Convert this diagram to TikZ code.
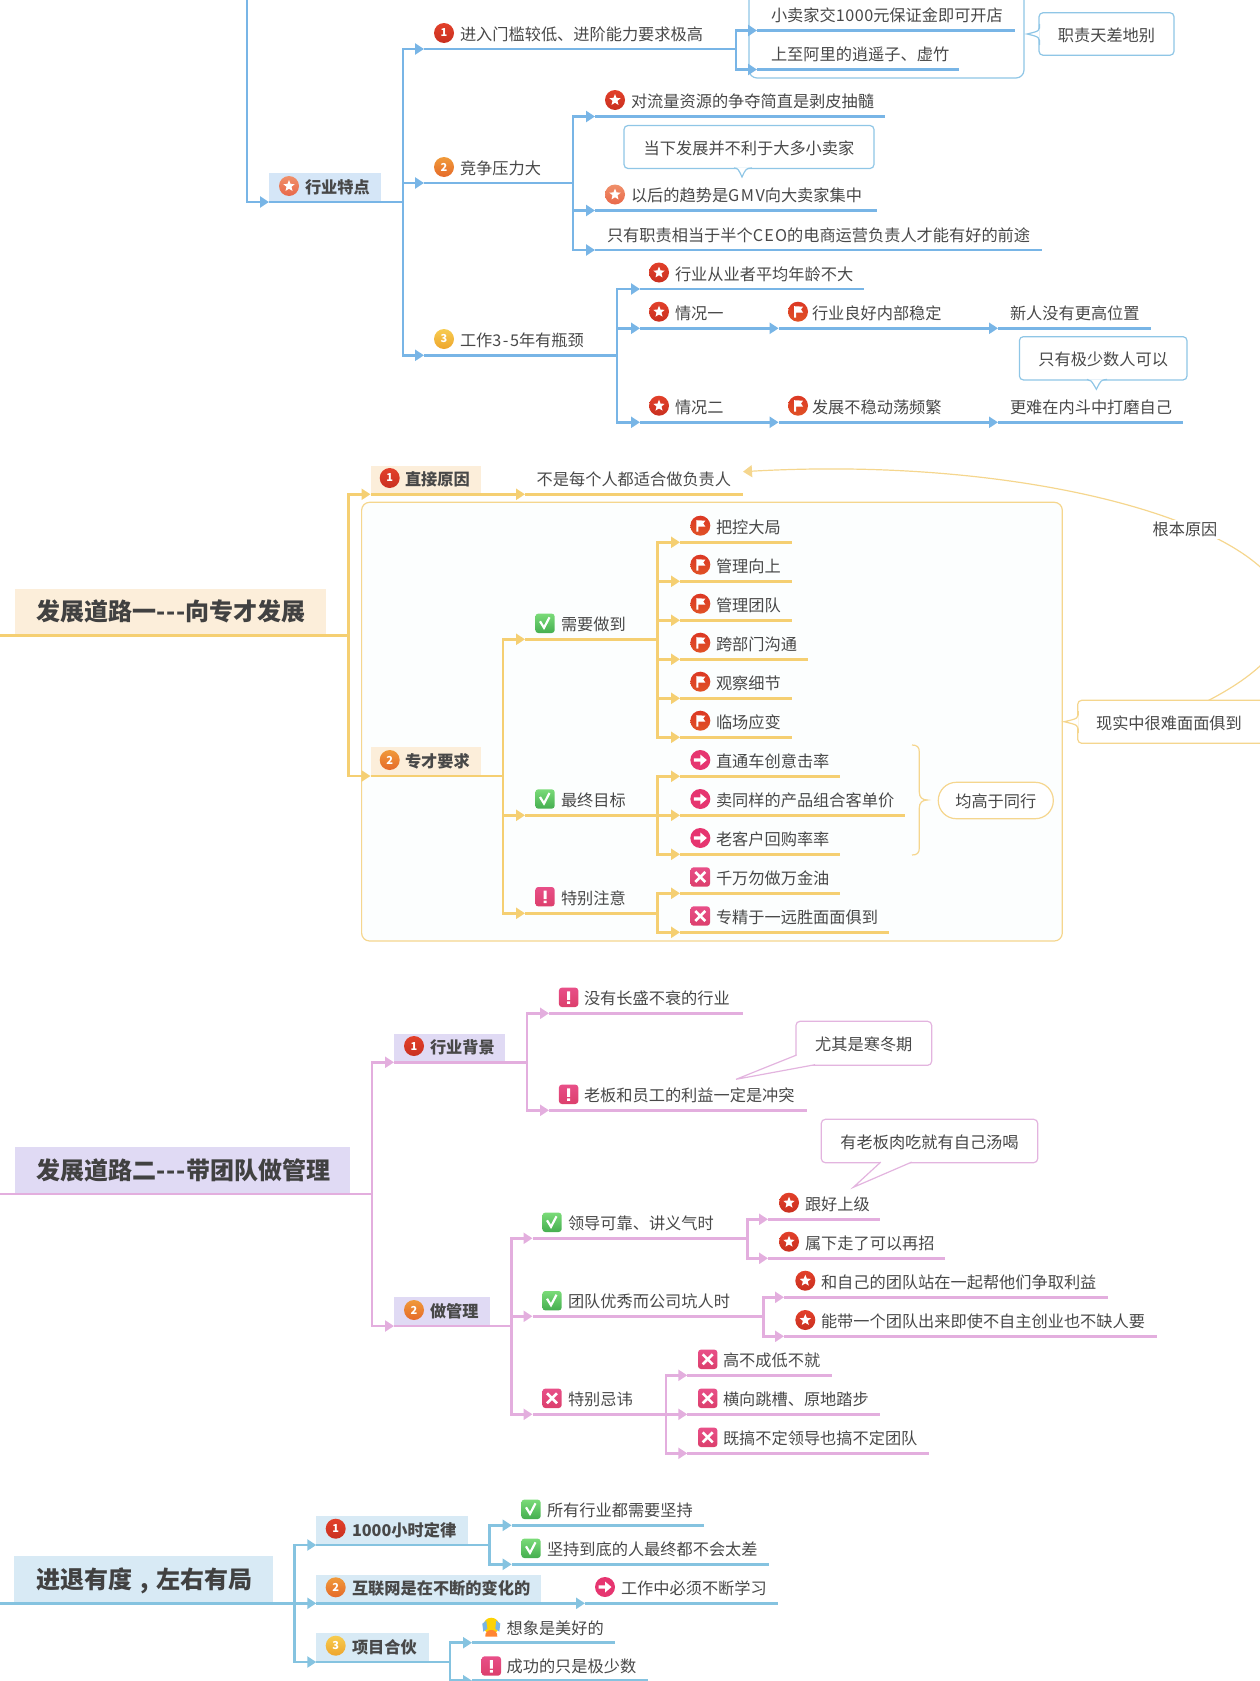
\documentclass[tikz,border=0pt]{standalone}
\usepackage{fontspec}
\setmainfont{Noto Sans CJK SC}
\usetikzlibrary{arrows.meta}
\definecolor{txt}{HTML}{484848}
\definecolor{blueL}{HTML}{78B5E6}
\definecolor{blueB}{HTML}{D5E6F7}
\definecolor{blueC}{HTML}{8FC6E6}
\definecolor{yelL}{HTML}{F5CF72}
\definecolor{yelB}{HTML}{FCEEDA}
\definecolor{yelC}{HTML}{F5D68E}
\definecolor{yelF}{HTML}{FCFEFE}
\definecolor{purL}{HTML}{E3AEDE}
\definecolor{purB}{HTML}{E0DAF4}
\definecolor{purC}{HTML}{E3B4DF}
\definecolor{tealL}{HTML}{85C3E0}
\definecolor{tealB}{HTML}{D8EAF5}
\newcounter{ic}
\tikzset{
  every node/.style={font=\fontsize{16.2}{18}\selectfont,text=txt},
  tp/.style={inner sep=0pt,outer sep=0pt,text height=20pt,text depth=8.7pt},
  boxed/.style={fill=bx,font=\fontsize{16.2}{18}\selectfont\bfseries},
  headbox/.style={fill=bx,font=\fontsize{24}{26}\selectfont\bfseries,text height=32pt,text depth=15pt,text=txt!90!black},
  ul/.style={line width=2.8pt,draw=ln},
  conn/.style={line width=2.8pt,draw=ln,-{Triangle[length=9pt,width=11pt]}},
  note/.style={draw=cl,line width=1.2pt,fill=white,rounded corners=4pt,inner sep=0pt,outer sep=0pt,text height=14.4pt,text depth=0pt},
  ptr/.style={draw=cl,line width=1.2pt,fill=white},
  digit/.style={font=\fontsize{11}{11}\selectfont\bfseries,text=white,inner sep=0pt}
}
\newcommand\topic[7][]{%
  \pgfmathsetmacro\tw{#4-#3}\pgfmathsetmacro\tg{#6-#3}%
  \node[tp,#1,anchor=south west] (#2) at (#3,#5) {\makebox[\tw pt][l]{\hspace*{\tg pt}#7}};
  \draw[ul] (#2.south west) -- (#2.south east);}
\newcommand\conn[3]{\draw[conn] (#1.south east) -| ([xshift=-#3pt]#2.south west) -- (#2.south west);}
% icons
\newcommand\numic[5]{\stepcounter{ic}\begin{scope}[shift={(#1,#2)}]
  \shade[top color=#3,bottom color=#4] (0,0) circle (10);
  \node[digit] (ic\arabic{ic}) at (0,0) {#5};\end{scope}}
\newcommand\istar[4]{\begin{scope}[shift={(#1,#2)}]
  \shade[top color=#3,bottom color=#4] (0,0) circle (10);
  \fill[white,yscale=-1] (90:6) -- (126:2.6) -- (162:6) -- (198:2.6) -- (234:6) -- (270:2.8) -- (306:6) -- (342:2.6) -- (18:6) -- (54:2.6) -- cycle;\end{scope}}
\newcommand\iflag[2]{\begin{scope}[shift={(#1,#2)}]
  \shade[top color=flagA,bottom color=flagB] (0,0) circle (10);
  \fill[white] (-4,-5.5) -- (5,-5) -- (3,-2.2) -- (5,0.8) -- (-2,0.8) -- (-2,6) -- (-4,6) -- cycle;\end{scope}}
\newcommand\iarrow[2]{\begin{scope}[shift={(#1,#2)}]
  \fill[fill=arrowc] (0,0) circle (10);
  \fill[white] (-6.5,-1.7) -- (0,-1.7) -- (0,-5.5) -- (6.5,0) -- (0,5.5) -- (0,1.7) -- (-6.5,1.7) -- cycle;\end{scope}}
\definecolor{arrowc}{HTML}{E63570}
\definecolor{flagA}{HTML}{DC3824}
\definecolor{flagB}{HTML}{E05226}
\definecolor{redA}{HTML}{E2402A}
\definecolor{redB}{HTML}{C93020}
\definecolor{orA}{HTML}{F0906A}
\definecolor{orB}{HTML}{E8684A}
\definecolor{twoA}{HTML}{F09A3A}
\definecolor{twoB}{HTML}{E56A2A}
\definecolor{thrA}{HTML}{F7CC50}
\definecolor{thrB}{HTML}{EEA52C}
\definecolor{chkA}{HTML}{7ADB78}
\definecolor{chkB}{HTML}{45AE50}
\newcommand\icheck[2]{\begin{scope}[shift={(#1,#2)}]
  \shade[top color=chkA,bottom color=chkB,rounded corners=3pt] (-9.7,-9.7) rectangle (9.7,9.7);
  \draw[white,line width=2.2pt] (-5,-2) -- (-1,4.5) -- (4.5,-6);\end{scope}}
\newcommand\icross[2]{\begin{scope}[shift={(#1,#2)}]
  \shade[top color=crossA,bottom color=crossB,rounded corners=3pt] (-9.7,-9.7) rectangle (9.7,9.7);
  \draw[white,line width=2.6pt] (-5,-5) -- (5,5) (-5,5) -- (5,-5);\end{scope}}
\newcommand\iexcl[2]{\begin{scope}[shift={(#1,#2)}]
  \shade[top color=crossA,bottom color=crossB,rounded corners=3pt] (-9.7,-9.7) rectangle (9.7,9.7);
  \fill[white] (-1.5,-6) rectangle (1.5,2.5) (-1.5,4) rectangle (1.5,6.5);\end{scope}}
\definecolor{crossA}{HTML}{E84F88}
\definecolor{crossB}{HTML}{DC3F6C}
\newcommand\iface[2]{\begin{scope}[shift={(#1,#2)}]
  \fill[yellow!70!orange] (0,-2) circle (8);
  \fill[orange!80!red!80] (-6,9) .. controls (-7,0) and (7,0) .. (6,9) -- cycle;
  \fill[blueL] (-9,-4) -- (-5,-7) -- (-4,1) -- (-8,4) -- cycle (9,-4) -- (5,-7) -- (4,1) -- (8,4) -- cycle;\end{scope}}
\newcommand\redstar[2]{\istar{#1}{#2}{redA}{redB}}
\newcommand\orstar[2]{\istar{#1}{#2}{orA}{orB}}
\newcommand\nA[2]{\numic{#1}{#2}{redA}{redB}{1}}
\newcommand\nB[2]{\numic{#1}{#2}{twoA}{twoB}{2}}
\newcommand\nC[2]{\numic{#1}{#2}{thrA}{thrB}{3}}
\newcommand\hy{-\kern0.6pt}
\begin{document}
\begin{tikzpicture}[x=1pt,y=-1pt]
\useasboundingbox (0,0) rectangle (1260,1681);
\clip (0,0) rectangle (1260,1681);
%============ BLUE
\begin{scope}
\colorlet{ln}{blueL}\colorlet{bx}{blueB}\colorlet{cl}{blueC}
\node[note,anchor=south west,minimum width=275pt,minimum height=100pt,rounded corners=8pt] (bframe) at (749,78) {};
\coordinate (btop) at (247,-3);
\topic[boxed]{bA}{269}{381}{202}{305}{行业特点}\orstar{289}{186}
\draw[conn] (btop) |- (bA.south west);
\topic{bB}{424}{720}{49}{460}{进入门槛较低、进阶能力要求极高}\nA{444}{33}
\topic{bC}{424}{550}{183}{460}{竞争压力大}\nB{444}{167}
\topic{bD}{424}{600}{355.3}{460}{工作3\kern1.5pt-\kern1.5pt 5年有瓶颈}\nC{444}{339}
\conn{bA}{bB}{21}\conn{bA}{bC}{21}\conn{bA}{bD}{21}
\topic{bB1}{757}{1015}{30.5}{771}{小卖家交1\kern.5pt 0\kern.5pt 0\kern.5pt 0元保证金即可开店}
\topic{bB2}{757}{959}{69.5}{771}{上至阿里的逍遥子、虚竹}
\conn{bB}{bB1}{21}\conn{bB}{bB2}{21}
\topic{bC1}{595}{885}{116.5}{631}{对流量资源的争夺简直是剥皮抽髓}\redstar{615}{100}
\topic{bC2}{595}{877}{210.5}{631}{以后的趋势是G\kern1.5pt M\kern1.5pt V向大卖家集中}\orstar{615}{194.5}
\topic{bC3}{595}{1042}{250}{607}{只有职责相当于半个C\kern1.2pt E\kern1.2pt O的电商运营负责人才能有好的前途}
\conn{bC}{bC1}{22}\conn{bC}{bC2}{22}\conn{bC}{bC3}{22}
\topic{bD1}{640}{864}{289}{675}{行业从业者平均年龄不大}\redstar{659}{272.5}
\topic{bD2}{640}{765}{328.3}{675}{情况一}\redstar{659}{311.7}
\topic{bD3}{640}{765}{422.3}{675}{情况二}\redstar{659}{405.7}
\conn{bD}{bD1}{23}\conn{bD}{bD2}{23}\conn{bD}{bD3}{23}
\topic{bE1}{778.6}{985}{328.3}{812}{行业良好内部稳定}\iflag{798}{311.7}
\topic{bE2}{998}{1151}{328.3}{1010}{新人没有更高位置}
\conn{bD2}{bE1}{5}\conn{bE1}{bE2}{5}
\topic{bF1}{778.6}{985}{422.3}{812}{发展不稳动荡频繁}\iflag{798}{405.7}
\topic{bF2}{998}{1183}{422.3}{1010}{更难在内斗中打磨自己}
\conn{bD3}{bF1}{5}\conn{bF1}{bF2}{5}
% callouts
\node[note,minimum width=135pt,minimum height=42.5pt] (cA) at (1106.5,34) {职责天差地别};
\draw[ptr] (1039.6,24) .. controls (1039.6,31) .. (1027,34) .. controls (1039.6,37) .. (1039.6,45);
\node[note,minimum width=250pt,minimum height=43pt] (cB) at (749,147) {当下发展并不利于大多小卖家};
\draw[ptr] (734,167.9) .. controls (738,168.5) .. (742,177) .. controls (746,168.5) .. (752,167.9);
\node[note,minimum width=167.6pt,minimum height=43.3pt] (cC) at (1103.2,358.3) {只有极少数人可以};
\draw[ptr] (1087,379.4) .. controls (1091,380) .. (1096.4,389.3) .. controls (1101,380) .. (1107,379.4);
\end{scope}
%============ YELLOW
\begin{scope}
\colorlet{ln}{yelL}\colorlet{bx}{yelB}\colorlet{cl}{yelC}
\node[note,anchor=north west,minimum width=700.7pt,minimum height=438.7pt,rounded corners=8pt,fill=yelF] (yframe) at (361.6,502.3) {};
\coordinate (yleft) at (-3,635.5);
\topic[headbox]{yH}{14.7}{326}{635.5}{36.5}{发展道路一\hy\hy\hy 向专才发展}
\draw[ul] (yleft) -- (yH.south west);
\topic[boxed]{yA}{370.5}{481}{494.3}{405}{直接原因}\nA{389.7}{478}
\topic[boxed]{yB}{370.5}{481}{776}{405}{专才要求}\nB{389.7}{760}
\conn{yH}{yA}{22}\conn{yH}{yB}{22}
\topic{yA1}{525}{743}{494.3}{536.7}{不是每个人都适合做负责人}
\conn{yA}{yA1}{5}
\topic{yC}{525}{640}{639.3}{561}{需要做到}\icheck{545}{623.3}
\topic{yD}{525}{640}{815.3}{561}{最终目标}\icheck{545}{799}
\topic{yE}{525}{640}{913.3}{561}{特别注意}\iexcl{545}{896.7}
\conn{yB}{yC}{22}\conn{yB}{yD}{22}\conn{yB}{yE}{22}
\topic{yC1}{680}{792.3}{542.3}{716}{把控大局}\iflag{700.3}{525.7}
\topic{yC2}{680}{792.3}{581.3}{716}{管理向上}\iflag{700.3}{564.7}
\topic{yC3}{680}{792.3}{620.3}{716}{管理团队}\iflag{700.3}{603.7}
\topic{yC4}{680}{808.3}{659.3}{716}{跨部门沟通}\iflag{700.3}{642.7}
\topic{yC5}{680}{792.3}{698.3}{716}{观察细节}\iflag{700.3}{681.7}
\topic{yC6}{680}{792.3}{737.3}{716}{临场应变}\iflag{700.3}{720.7}
\foreach \c in {1,...,6}{\conn{yC}{yC\c}{22.3}}
\topic{yD1}{680}{840}{776.3}{716}{直通车创意击率}\iarrow{700.3}{760}
\topic{yD2}{680}{905}{815.3}{716}{卖同样的产品组合客单价}\iarrow{700.3}{799}
\topic{yD3}{680}{840}{854.3}{716}{老客户回购率率}\iarrow{700.3}{838}
\foreach \c in {1,2,3}{\conn{yD}{yD\c}{22.3}}
\topic{yE1}{680}{840}{893.3}{716}{千万勿做万金油}\icross{700.3}{877}
\topic{yE2}{680}{889}{932.3}{716}{专精于一远胜面面俱到}\icross{700.3}{916}
\conn{yE}{yE1}{22.3}\conn{yE}{yE2}{22.3}
% brace
\draw[draw=cl,line width=1.2pt] (912,745) .. controls (917,745) and (919.3,747) .. (919.3,752) -- (919.3,792) .. controls (919.3,797) and (922,800) .. (927.3,800) .. controls (922,800) and (919.3,803) .. (919.3,808) -- (919.3,848) .. controls (919.3,853) and (917,855) .. (912,855);
\node[note,minimum width=115pt,minimum height=36.4pt,rounded corners=18pt] (yS) at (995.8,800.5) {均高于同行};
\node[note,anchor=west,minimum width=190pt,minimum height=43pt] (yR) at (1077.7,721.8) {\hspace*{-7.5pt}现实中很难面面俱到};
\draw[ptr] (1078.3,711) .. controls (1078.3,718.5) .. (1064,721.7) .. controls (1078.3,725) .. (1078.3,733);
\draw[line width=1.2pt,draw=cl,-{Triangle[length=9pt,width=12pt]}] ([xshift=36pt]yR.north) .. controls (1440,580) and (1120,450) .. ([yshift=22.6pt]yA1.south east);
\node[fill=white,inner sep=2pt] (yW) at (1185,529.5) {根本原因};
\end{scope}
%============ PURPLE
\begin{scope}
\colorlet{ln}{purL}\colorlet{bx}{purB}\colorlet{cl}{purC}
\coordinate (pleft) at (-3,1194);
\topic[headbox]{pH}{14.5}{350}{1194}{36.8}{发展道路二\hy\hy\hy 带团队做管理}
\draw[ul] (pleft) -- (pH.south west);
\topic[boxed]{pA}{394}{505}{1062.3}{430}{行业背景}\nA{414}{1046}
\topic[boxed]{pB}{394}{489.6}{1326}{430}{做管理}\nB{414}{1310}
\conn{pH}{pA}{22}\conn{pH}{pB}{22}
\topic{pA1}{549}{742.6}{1013.3}{584}{没有长盛不衰的行业}\iexcl{568.6}{997.3}
\topic{pA2}{549}{806.7}{1110.3}{584}{老板和员工的利益一定是冲突}\iexcl{568.6}{1094.3}
\conn{pA}{pA1}{22}\conn{pA}{pA2}{22}
\topic{pC}{532.5}{730}{1238.3}{568}{领导可靠、讲义气时}\icheck{552}{1222.3}
\topic{pD}{532.5}{745}{1316.3}{568}{团队优秀而公司坑人时}\icheck{552}{1300.7}
\topic{pE}{532.5}{650}{1414.3}{568}{特别忌讳}\icross{552}{1398.3}
\conn{pB}{pC}{21}\conn{pB}{pD}{21}\conn{pB}{pE}{21}
\topic{pC1}{768}{880.3}{1219.3}{805}{跟好上级}\redstar{789}{1202.7}
\topic{pC2}{768}{945.4}{1258.3}{805}{属下走了可以再招}\redstar{789}{1241.7}
\conn{pC}{pC1}{20.8}\conn{pC}{pC2}{20.8}
\topic{pD1}{784}{1108}{1297.3}{821}{和自己的团队站在一起帮他们争取利益}\redstar{805.3}{1280.7}
\topic{pD2}{784}{1157}{1336.3}{821}{能带一个团队出来即使不自主创业也不缺人要}\redstar{805.3}{1320}
\conn{pD}{pD1}{20.8}\conn{pD}{pD2}{20.8}
\topic{pE1}{687.3}{832}{1375.3}{723}{高不成低不就}\icross{707.7}{1359.3}
\topic{pE2}{687.3}{880.3}{1414.3}{723}{横向跳槽、原地踏步}\icross{707.7}{1398.3}
\topic{pE3}{687.3}{929.3}{1453.3}{723}{既搞不定领导也搞不定团队}\icross{707.7}{1437.3}
\conn{pE}{pE1}{21.3}\conn{pE}{pE2}{21.3}\conn{pE}{pE3}{21.3}
\node[note,minimum width=135.7pt,minimum height=44pt] (pN1) at (863.8,1043.3) {尤其是寒冬期};
\draw[ptr] (796.6,1055) -- (736,1079.3) -- (815,1064.7);
\node[note,minimum width=216.4pt,minimum height=43.4pt] (pN2) at (929.5,1141) {有老板肉吃就有自己汤喝};
\draw[ptr] (880.7,1162.1) -- (853.3,1187.3) -- (911.7,1162.1);
\end{scope}
%============ TEAL
\begin{scope}
\colorlet{ln}{tealL}\colorlet{bx}{tealB}\colorlet{cl}{tealL}
\coordinate (tleft) at (-3,1603.3);
\topic[headbox]{tH}{14.3}{273}{1603.3}{36.7}{进退有度\makebox[24pt]{,}左右有局}
\draw[ul] (tleft) -- (tH.south west);
\topic[boxed]{tA}{316.3}{467.9}{1545}{352}{1000小时定律}\nA{335.7}{1528.7}
\topic[boxed]{tB}{316.3}{540.8}{1603.3}{352}{互联网是在不断的变化的}\nB{335.7}{1587.3}
\topic[boxed]{tC}{316.3}{428.6}{1662}{352}{项目合伙}\nC{335.7}{1645.7}
\conn{tH}{tA}{22}\conn{tH}{tB}{22}\conn{tH}{tC}{22}
\topic{tA1}{511.7}{704}{1525.3}{547}{所有行业都需要坚持}\icheck{531}{1509.3}
\topic{tA2}{511.7}{769}{1564.3}{547}{坚持到底的人最终都不会太差}\icheck{531}{1548.3}
\conn{tA}{tA1}{22}\conn{tA}{tA2}{22}
\topic{tB1}{585}{778}{1603.3}{621}{工作中必须不断学习}\iarrow{605}{1587}
\conn{tB}{tB1}{5}
\topic{tC1}{472}{615}{1642.7}{506.6}{想象是美好的}\iface{491.3}{1627.7}
\topic{tC2}{472}{648}{1680.7}{506.6}{成功的只是极少数}\iexcl{491.3}{1666}
\conn{tC}{tC1}{22}\conn{tC}{tC2}{22}
\end{scope}
\end{tikzpicture}
\end{document}
